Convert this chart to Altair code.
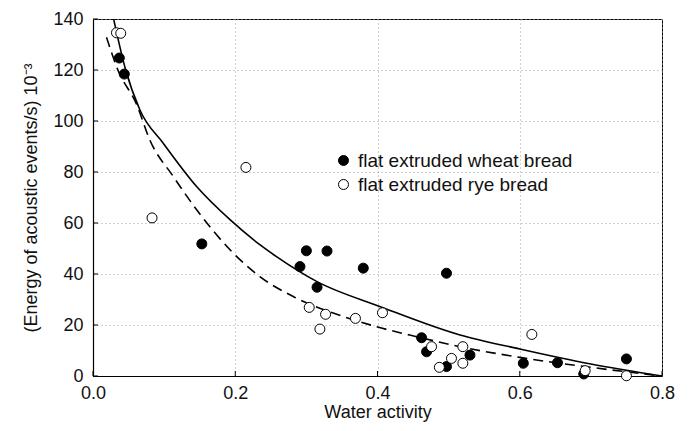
import altair as alt
import pandas as pd

# Data
wheat_x = [0.037, 0.044, 0.153, 0.291, 0.300, 0.315, 0.329, 0.380, 0.462, 0.469, 0.497, 0.497, 0.530, 0.605, 0.653, 0.690, 0.750]
wheat_y = [124.7, 118.4, 51.8, 42.9, 49.1, 34.8, 49.0, 42.3, 15.0, 9.5, 40.3, 3.7, 8.2, 5.0, 5.2, 0.8, 6.7]

rye_x = [0.033, 0.039, 0.083, 0.215, 0.304, 0.319, 0.327, 0.369, 0.407, 0.476, 0.487, 0.504, 0.520, 0.520, 0.617, 0.692, 0.750]
rye_y = [134.6, 134.4, 62.0, 81.8, 26.9, 18.4, 24.2, 22.6, 24.8, 11.5, 3.4, 6.9, 11.5, 5.0, 16.3, 2.1, 0.1]

solid_x = [0.029, 0.045, 0.066, 0.099, 0.146, 0.193, 0.235, 0.258, 0.315, 0.404, 0.516, 0.6, 0.7, 0.8]
solid_y = [140, 121, 104.3, 91.2, 74.2, 61.2, 51.4, 46.8, 37, 27.2, 16.1, 10.6, 4.7, 0]

dashed_x = [0.019, 0.035, 0.061, 0.08, 0.113, 0.146, 0.193, 0.235, 0.282, 0.352, 0.399, 0.455, 0.516, 0.6, 0.7, 0.8]
dashed_y = [132.8, 120, 106.7, 92.5, 78.2, 65.1, 49.4, 38.9, 31.1, 23.3, 19.3, 15.4, 11.5, 7.3, 3.4, 0]

x_ticks = [0.0, 0.2, 0.4, 0.6, 0.8]
y_ticks = [0, 20, 40, 60, 80, 100, 120, 140]

series_names = ["flat extruded wheat bread", "flat extruded rye bread"]

pts = pd.concat([
    pd.DataFrame({"x": wheat_x, "y": wheat_y, "s": series_names[0]}),
    pd.DataFrame({"x": rye_x, "y": rye_y, "s": series_names[1]}),
])
solid = pd.DataFrame({"x": solid_x, "y": solid_y})
dashed = pd.DataFrame({"x": dashed_x, "y": dashed_y})
xt = pd.DataFrame({"x": x_ticks})
yt = pd.DataFrame({"y": y_ticks})

FONT = "Liberation Sans"
W, H = 569, 357

xs = alt.Scale(domain=[0, 0.8], nice=False)
ys = alt.Scale(domain=[0, 140], nice=False)

common = dict(labelFontSize=18, titleFontSize=18, ticks=False, labelFont=FONT, titleFont=FONT,
              labelFlush=False, labelOverlap=False,
              domainColor="black", domainWidth=1.2, labelColor="#111", titleColor="#111",
              gridColor="#a0a0a0", gridDash=[1, 3], gridWidth=1, titleFontWeight="normal")
xax = alt.Axis(values=x_ticks, format=".1f", title="Water activity",
               labelPadding=8, titlePadding=1, **common)
yax = alt.Axis(values=y_ticks, title="(Energy of acoustic events/s) 10⁻³",
               labelPadding=10, titlePadding=12, **common)

solid_line = alt.Chart(solid).mark_line(color="black", strokeWidth=1.6, interpolate="monotone").encode(
    x=alt.X("x:Q", scale=xs, axis=xax), y=alt.Y("y:Q", scale=ys, axis=yax))
dashed_line = alt.Chart(dashed).mark_line(color="black", strokeWidth=1.6, strokeDash=[10, 6],
                                          interpolate="monotone").encode(
    x=alt.X("x:Q", scale=xs), y=alt.Y("y:Q", scale=ys))

# inward tick marks
xtick = alt.Chart(xt).mark_rule(color="black", strokeWidth=1).encode(
    x=alt.X("x:Q", scale=xs), y=alt.value(H), y2=alt.value(H - 5))
ytick = alt.Chart(yt).mark_rule(color="black", strokeWidth=1).encode(
    y=alt.Y("y:Q", scale=ys), x=alt.value(0), x2=alt.value(5))

points = alt.Chart(pts).mark_point(shape="circle", size=100, stroke="black", strokeWidth=1,
                                   opacity=1, filled=False).encode(
    x=alt.X("x:Q", scale=xs),
    y=alt.Y("y:Q", scale=ys),
    fill=alt.Fill("s:N", scale=alt.Scale(domain=series_names, range=["black", "white"]),
                  legend=alt.Legend(title=None, orient="none", legendX=241, legendY=132,
                                    symbolType="circle", symbolSize=100, symbolStrokeColor="black",
                                    symbolStrokeWidth=1, labelFontSize=19, labelFont=FONT,
                                    labelColor="#111", labelOffset=5, rowPadding=4, padding=0,
                                    labelLimit=400)),
)

chart = alt.layer(dashed_line, solid_line, xtick, ytick, points).properties(
    width=W, height=H,
    autosize=alt.AutoSizeParams(type="none"),
    padding={"left": 85, "top": 11, "right": 22, "bottom": 47},
).configure(font=FONT).configure_view(stroke="black", strokeWidth=1)

chart.save("out.html", embed_options={"renderer": "svg", "actions": False})
